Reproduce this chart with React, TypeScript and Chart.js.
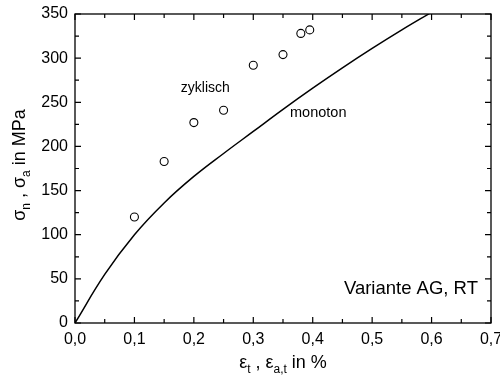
import React, { useEffect, useRef } from "react";
import { Chart, registerables } from "chart.js";
Chart.register(...registerables);

const monotonStrain = [0, 0.05, 0.1, 0.15, 0.2, 0.25, 0.3, 0.35, 0.4, 0.45, 0.5, 0.55, 0.6];
const monotonStress = [0, 55, 100, 136, 166, 192, 217, 242, 266, 289, 311, 332, 352];
const zyklischStrain = [0.1, 0.15, 0.2, 0.25, 0.3, 0.35, 0.38, 0.395];
const zyklischStress = [120, 183, 227, 241, 292, 304, 328, 332];
const xTickValues = [0, 0.1, 0.2, 0.3, 0.4, 0.5, 0.6, 0.7];
const yTickValues = [0, 50, 100, 150, 200, 250, 300, 350];

const FONT = '"Liberation Sans", Arial, sans-serif';

type Seg = { t: string; sub?: boolean };

function drawRich(ctx: CanvasRenderingContext2D, segs: Seg[], x: number, y: number, size: number) {
  const subSize = Math.round(size * 0.65);
  let w = 0;
  for (const s of segs) {
    ctx.font = `${s.sub ? subSize : size}px ${FONT}`;
    w += ctx.measureText(s.t).width;
  }
  let cx = x - w / 2;
  ctx.textAlign = "left";
  ctx.textBaseline = "alphabetic";
  for (const s of segs) {
    ctx.font = `${s.sub ? subSize : size}px ${FONT}`;
    ctx.fillText(s.t, cx, s.sub ? y + size * 0.3 : y);
    cx += ctx.measureText(s.t).width;
  }
}

const framePlugin = {
  id: "frame",
  afterDraw(chart: any) {
    const ctx = chart.ctx as CanvasRenderingContext2D;
    const { left, right, top, bottom } = chart.chartArea;
    const xs = chart.scales.x;
    const ys = chart.scales.y;
    ctx.save();
    ctx.strokeStyle = "#000";
    ctx.fillStyle = "#000";
    ctx.lineWidth = 1.3;
    ctx.strokeRect(left, top, right - left, bottom - top);
    ctx.lineWidth = 1.2;
    ctx.beginPath();
    for (let i = 0; i <= 14; i++) {
      const px = xs.getPixelForValue(i * 0.05);
      const len = i % 2 === 0 ? 6 : 4;
      ctx.moveTo(px, bottom);
      ctx.lineTo(px, bottom - len);
      ctx.moveTo(px, top);
      ctx.lineTo(px, top + len);
    }
    for (let i = 0; i <= 14; i++) {
      const py = ys.getPixelForValue(i * 25);
      const len = i % 2 === 0 ? 6 : 4;
      ctx.moveTo(left, py);
      ctx.lineTo(left + len, py);
      ctx.moveTo(right, py);
      ctx.lineTo(right - len, py);
    }
    ctx.stroke();

    ctx.textBaseline = "middle";
    ctx.textAlign = "left";
    ctx.font = `14px ${FONT}`;
    ctx.fillText("zyklisch", xs.getPixelForValue(0.178), ys.getPixelForValue(265.6));
    ctx.font = `14.5px ${FONT}`;
    ctx.fillText("monoton", xs.getPixelForValue(0.3618), ys.getPixelForValue(238.4));
    ctx.textAlign = "right";
    ctx.font = `18.5px ${FONT}`;
    ctx.fillText("Variante AG, RT", xs.getPixelForValue(0.678), ys.getPixelForValue(38.6));

    drawRich(
      ctx,
      [{ t: "\u03b5" }, { t: "t", sub: true }, { t: " , \u03b5" }, { t: "a,t", sub: true }, { t: " in %" }],
      283,
      368,
      18
    );
    ctx.translate(25, 165);
    ctx.rotate(-Math.PI / 2);
    drawRich(
      ctx,
      [{ t: "\u03c3" }, { t: "n", sub: true }, { t: " , \u03c3" }, { t: "a", sub: true }, { t: " in MPa" }],
      0,
      0,
      18
    );
    ctx.restore();
  },
};

export default function App() {
  const ref = useRef<HTMLCanvasElement>(null);
  useEffect(() => {
    document.body.style.margin = "0";
    const chart = new Chart(ref.current!, {
      type: "scatter",
      data: {
        datasets: [
          {
            label: "monoton",
            data: monotonStrain.map((x, i) => ({ x, y: monotonStress[i] })),
            showLine: true,
            borderColor: "#000",
            borderWidth: 1.5,
            pointRadius: 0,
            tension: 0.4,
            fill: false,
          },
          {
            label: "zyklisch",
            data: zyklischStrain.map((x, i) => ({ x, y: zyklischStress[i] })),
            showLine: false,
            pointStyle: "circle",
            pointRadius: 4,
            borderColor: "#000",
            borderWidth: 1.1,
            backgroundColor: "rgba(255,255,255,0)",
          },
        ],
      },
      options: {
        animation: false,
        responsive: true,
        maintainAspectRatio: false,
        layout: { padding: { top: 14, right: 9, left: 0, bottom: 0 } },
        plugins: { legend: { display: false }, tooltip: { enabled: false } },
        scales: {
          x: {
            type: "linear",
            min: 0,
            max: 0.7,
            afterBuildTicks: (s: any) => {
              s.ticks = xTickValues.map((v) => ({ value: v }));
            },
            ticks: {
              color: "#000",
              font: { size: 16, family: FONT },
              padding: 7,
              maxRotation: 0,
              autoSkip: false,
              callback: (v: any) => Number(v).toFixed(1).replace(".", ","),
            },
            grid: { display: false, drawTicks: false },
            border: { display: false },
            afterFit: (s: any) => {
              s.height = 56;
              s.paddingLeft = 0;
              s.paddingRight = 0;
            },
          },
          y: {
            type: "linear",
            min: 0,
            max: 350,
            afterBuildTicks: (s: any) => {
              s.ticks = yTickValues.map((v) => ({ value: v }));
            },
            ticks: {
              color: "#000",
              font: { size: 16, family: FONT },
              padding: 7,
              autoSkip: false,
              callback: (v: any) => String(v),
            },
            grid: { display: false, drawTicks: false },
            border: { display: false },
            afterFit: (s: any) => {
              s.width = 75;
              s.paddingTop = 0;
              s.paddingBottom = 0;
            },
          },
        },
      },
      plugins: [framePlugin],
    });
    return () => chart.destroy();
  }, []);
  return (
    <div style={{ width: 500, height: 379, position: "relative" }}>
      <canvas ref={ref} />
    </div>
  );
}
